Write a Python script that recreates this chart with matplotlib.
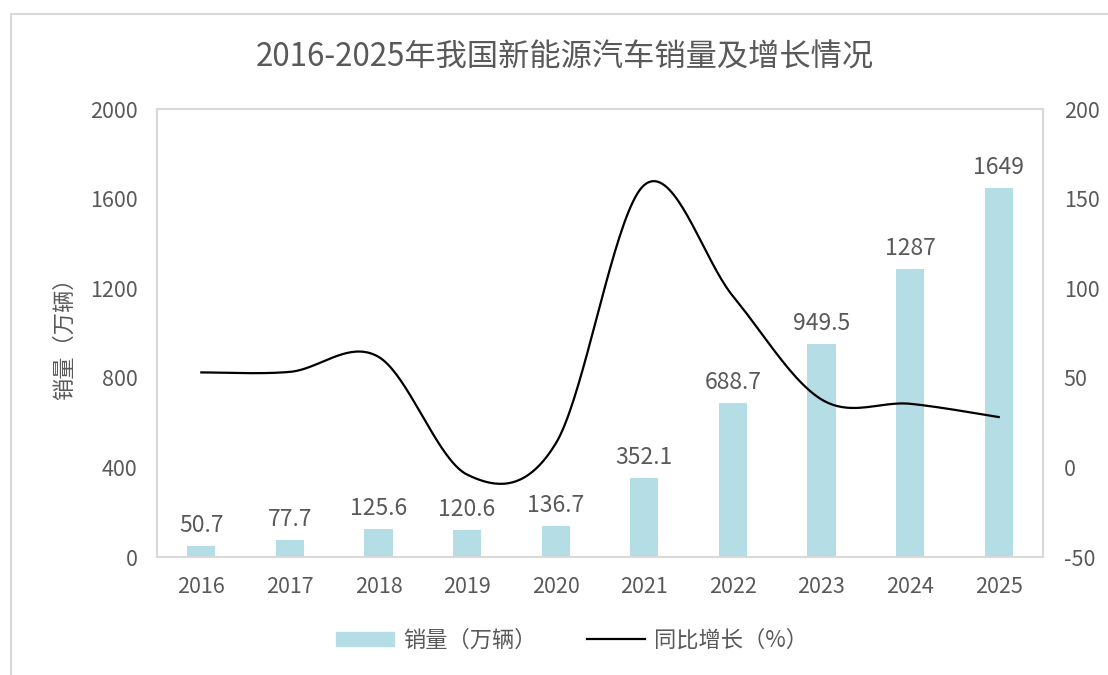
import numpy as np
import matplotlib.pyplot as plt
from matplotlib.patches import Rectangle
from matplotlib.lines import Line2D

plt.rcParams['font.family'] = ['Noto Sans CJK SC', 'DejaVu Sans']
plt.rcParams['axes.unicode_minus'] = False

years = ['2016', '2017', '2018', '2019', '2020', '2021', '2022', '2023', '2024', '2025']
sales = [50.7, 77.7, 125.6, 120.6, 136.7, 352.1, 688.7, 949.5, 1287, 1649]
growth = [53.0, 53.3, 61.7, -4.0, 13.3, 157.6, 95.6, 37.9, 35.5, 28.1]

gray = '#595959'
edge = '#D9D9D9'
bar_c = '#B5DDE6'


def smooth(xs, ys, n=40):
    # Excel-style smoothed line: bezier segments through the points
    px = np.r_[xs[0], xs, xs[-1]]
    py = np.r_[ys[0], ys, ys[-1]]
    ox, oy = [], []
    t = np.linspace(0, 1, n)
    for i in range(1, len(px) - 2):
        p0 = np.array([px[i], py[i]])
        p3 = np.array([px[i + 1], py[i + 1]])
        p1 = p0 + (np.array([px[i + 1], py[i + 1]]) - np.array([px[i - 1], py[i - 1]])) / 6
        p2 = p3 - (np.array([px[i + 2], py[i + 2]]) - np.array([px[i], py[i]])) / 6
        b = ((1 - t) ** 3)[:, None] * p0 + (3 * (1 - t) ** 2 * t)[:, None] * p1 \
            + (3 * (1 - t) * t ** 2)[:, None] * p2 + (t ** 3)[:, None] * p3
        ox.extend(b[:, 0])
        oy.extend(b[:, 1])
    return np.array(ox), np.array(oy)


fig = plt.figure(figsize=(11.08, 6.75), dpi=100)
fig.patches.append(Rectangle((11 / 1108, -0.2), 1.2, 1.2 - 14 / 675, transform=fig.transFigure,
                             fill=False, ec=edge, lw=1.5, figure=fig))

ax = fig.add_axes([157 / 1108, 1 - 557 / 675, (1043 - 157) / 1108, (557 - 109) / 675])
x = np.arange(len(years))
ax.bar(x, sales, width=0.32, color=bar_c, zorder=2)
for xi, v in zip(x, sales):
    ax.text(xi, v + 40, f'{v:g}', ha='center', va='bottom', fontsize=16.5, color=gray)

ax.set_xlim(-0.5, len(years) - 0.5)
ax.set_ylim(0, 2000)
ax.set_yticks(range(0, 2001, 400))
ax.set_xticks(x)
ax.set_xticklabels(years)
ax.tick_params(length=0, labelsize=15.5, labelcolor=gray, pad=14)
ax.tick_params(axis='y', pad=14)
for s in ax.spines.values():
    s.set_color(edge)
    s.set_linewidth(1.5)
ax.set_ylabel('销量（万辆）', fontsize=16, color=gray)
ax.yaxis.set_label_coords(-0.091, 0.5)

ax2 = ax.twinx()
sx, sy = smooth(x.astype(float), np.array(growth))
ax2.plot(sx, sy, color='black', lw=1.6, zorder=3)
ax2.set_ylim(-50, 200)
ax2.set_yticks(range(-50, 201, 50))
ax2.tick_params(length=0, labelsize=15.5, labelcolor=gray, pad=15)
for s in ax2.spines.values():
    s.set_visible(False)

fig.text(565 / 1108, 1 - 58 / 675, '2016-2025年我国新能源汽车销量及增长情况',
         ha='center', va='center', fontsize=22.5, color=gray)

handles = [Rectangle((0, 0), 1, 1, color=bar_c),
           Line2D([], [], color='black', lw=1.6)]
fig.legend(handles, ['销量（万辆）', '同比增长（%）'], loc='center',
           bbox_to_anchor=(572 / 1108, 1 - 640 / 675), ncol=2, frameon=False,
           fontsize=16, labelcolor=gray, handlelength=2.6, handleheight=0.6,
           columnspacing=2.3, handletextpad=0.4)

fig.savefig('out.png', dpi=100)
